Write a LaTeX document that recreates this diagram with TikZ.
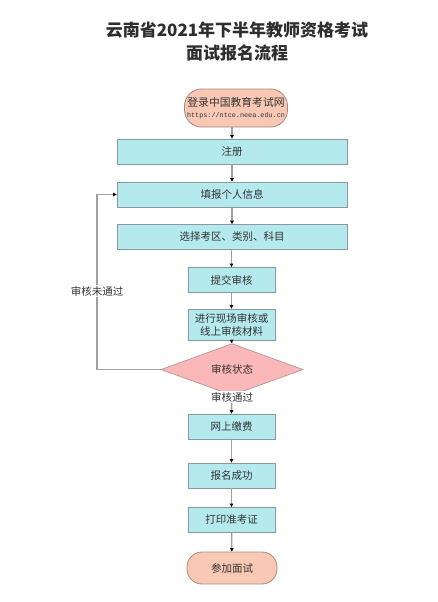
\documentclass[tikz,border=0pt]{standalone}
\usepackage{fontspec}
\setmainfont{Noto Sans CJK SC}
\newfontfamily\urlfont{Liberation Mono}
\usetikzlibrary{arrows.meta,shapes.geometric}
\definecolor{boxfill}{HTML}{B4EAEE}
\definecolor{boxline}{HTML}{8A9A9C}
\definecolor{termfill}{HTML}{F9C8B5}
\definecolor{termline}{HTML}{A08A84}
\definecolor{dfill}{HTML}{FBB8B8}
\definecolor{dline}{HTML}{B89A9A}
\definecolor{conn}{HTML}{A0A0A0}
\definecolor{txt}{HTML}{333333}
\begin{document}
\begin{tikzpicture}[x=1pt,y=-1pt,
  every node/.style={text=txt},
  boxw/.style={draw=boxline, fill=boxfill, line width=0.8pt, font=\fontsize{10.5}{13}\selectfont, inner sep=0pt, minimum width=230pt, minimum height=25pt},
  boxn/.style={draw=boxline, fill=boxfill, line width=0.8pt, font=\fontsize{10.5}{13}\selectfont, inner sep=0pt, minimum width=87pt, minimum height=25pt, align=center},
  term/.style={draw=termline, fill=termfill, line width=0.8pt, inner sep=0pt, align=center},
  dec/.style={diamond, draw=dline, fill=dfill, line width=0.8pt, font=\fontsize{10.5}{13}\selectfont, inner sep=0pt, minimum width=142pt, minimum height=31pt},
  lbl/.style={fill=white, inner sep=1pt, font=\fontsize{10.5}{13}\selectfont},
  conn/.style={draw=conn, line width=1.4pt, -{Triangle[length=3.5pt,width=3.5pt,color=black]}}
]
\useasboundingbox (0,0) rectangle (438,602);
\fill[white] (0,0) rectangle (438,602);

\node[text=txt!90!black, font=\fontsize{17}{23}\selectfont\bfseries, align=center] (title) at (237,42) {云南省2021年下半年教师资格考试\\面试报名流程};

\node[term, minimum width=103pt, minimum height=38pt, rounded corners=17pt] (start) at (236,108)
  {{\fontsize{10.8}{12}\selectfont 登录中国教育考试网}\\[-1pt]{\urlfont\fontsize{6.8}{8}\selectfont https://ntce.neea.edu.cn}};
\node[boxw] (reg) at (232,151.5) {注册};
\node[boxw] (info) at (232,194.5) {填报个人信息};
\node[boxw] (sel) at (232,237) {选择考区、类别、科目};
\node[boxn] (sub) at (231.5,280) {提交审核};
\node[boxn, minimum height=31pt] (rev) at (231.5,324.5) {进行现场审核或\\线上审核材料};
\node[dec] (st) at (232,369.5) {审核状态};
\node[boxn] (pay) at (231.5,426.5) {网上缴费};
\node[boxn] (ok) at (231.5,475.5) {报名成功};
\node[boxn] (print) at (231.5,520) {打印准考证};
\node[term, minimum width=90pt, minimum height=32pt, rounded corners=15pt, font=\fontsize{10.5}{13}\selectfont] (end) at (232,568) {参加面试};

\draw[conn] (start.south -| reg.north) -- (reg.north);
\draw[conn] (reg) -- (info);
\draw[conn] (info) -- (sel);
\draw[conn] (sel.south -| sub.north) -- (sub.north);
\draw[conn] (sub) -- (rev);
\draw[conn] (rev.south) -- (st.north);
\draw[conn] (st.south) -- (pay.north);
\draw[conn] (pay) -- (ok);
\draw[conn] (ok) -- (print);
\draw[conn] (print) -- (end);

\coordinate (lp) at (97,369.5);
\draw[conn] (st.west) -- (lp) |- (info.west);
\node[lbl] (nopass) at (97,291) {审核未通过};
\node[lbl] (pass) at (232,397) {审核通过};
\end{tikzpicture}
\end{document}
